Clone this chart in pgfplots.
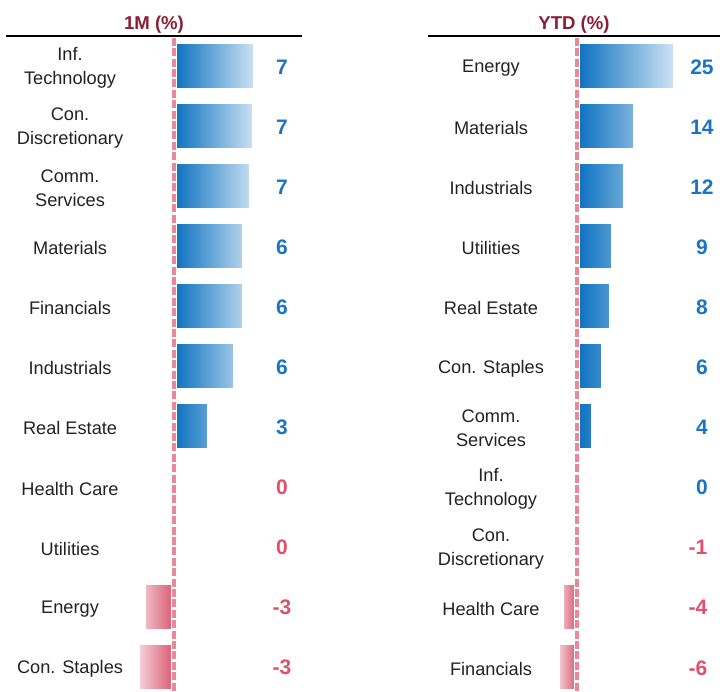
\documentclass[border=0pt]{standalone}
\usepackage{pgfplots}
\pgfplotsset{compat=1.18}
\usepackage{pgfplotstable}
\usepackage{fontspec}
\setmainfont{Liberation Sans}
\definecolor{bD}{HTML}{0A70C0}
\definecolor{bL}{HTML}{D2E5F4}
\definecolor{rD}{HTML}{DA5870}
\definecolor{rL}{HTML}{F6D8DF}
\definecolor{zl}{HTML}{E8899A}
\definecolor{ptc}{HTML}{1A74C2}
\definecolor{ntc}{HTML}{E0506A}
\definecolor{ttl}{HTML}{8C1D36}
\definecolor{lab}{HTML}{222222}
\newcommand\pv[1]{\textcolor{ptc}{#1}}
\newcommand\nv[1]{\textcolor{ntc}{#1}}

% ---- 1M panel ----
\pgfplotstableread{
idx val
0 7.45
1 7.36
2 7.09
3 6.45
4 6.45
5 5.63
6 3.27
}\leftpos
\pgfplotstableread{
idx val
9 -2.82
10 -3.36
}\leftneg
% ---- YTD panel ----
\pgfplotstableread{
idx val
0 24.75
1 14.75
2 12.25
3 9.25
4 8.75
5 6.75
6 4.25
}\rightpos
\pgfplotstableread{
idx val
9 -4.00
10 -5.00
}\rightneg

\pgfplotsset{
  panel/.style={
    scale only axis,
    y dir=reverse,
    ymin=-0.5, ymax=10.42,
    height=328pt,
    ticks=none,
    axis line style={draw=none},
    clip=false,
    every axis title shift=0pt,
    title style={font=\bfseries\fontsize{9.3}{10}\selectfont, color=ttl,
                 at={(0.5,1)}, anchor=base, yshift=3.5pt},
  },
  catlab/.style={draw=none, mark=none, nodes near coords,
    point meta=explicit symbolic,
    nodes near coords style={anchor=center, align=center, text=lab,
      yshift=-1pt, font=\fontsize{9.1}{12}\selectfont}},
  vallab/.style={draw=none, mark=none, nodes near coords,
    point meta=explicit symbolic,
    nodes near coords style={anchor=center, align=center, yshift=-0.5pt,
      font=\bfseries\fontsize{10.5}{12}\selectfont}},
  posbar/.style={xbar, bar width=25pt, draw=white, line width=3pt,
    left color=bD, right color=bL},
  negbar/.style={xbar, bar width=25pt, draw=white, line width=3pt,
    left color=rL, right color=rD},
  zeroline/.style={zl, line width=1.8pt, dash pattern=on 4pt off 1.2pt},
}

\begin{document}
\begin{tikzpicture}
\begin{axis}[panel, name=axL,
  at={(3pt,-18pt)}, anchor=north west,
  width=148pt, xmin=-15.273, xmax=11.636,
  title={1M (\%)}]
\addplot[posbar] table[x=val, y=idx] {\leftpos};
\addplot[negbar] table[x=val, y=idx] {\leftneg};
\addplot[zeroline] coordinates {(0,-0.47) (0,10.42)};
\addplot[catlab] coordinates {
(-9.45,0) [Inf.\\Technology]
(-9.45,1) [Con.\\Discretionary]
(-9.45,2) [Comm.\\Services]
(-9.45,3) [Materials]
(-9.45,4) [Financials]
(-9.45,5) [Industrials]
(-9.45,6) [Real Estate]
(-9.45,7) [Health Care]
(-9.45,8) [Utilities]
(-9.45,9) [Energy]
(-9.45,10) [Con. Staples]
};
\addplot[vallab] coordinates {
(9.82,0) [\pv{7}]
(9.82,1) [\pv{7}]
(9.82,2) [\pv{7}]
(9.82,3) [\pv{6}]
(9.82,4) [\pv{6}]
(9.82,5) [\pv{6}]
(9.82,6) [\pv{3}]
(9.82,7) [\nv{0}]
(9.82,8) [\nv{0}]
(9.82,9) [\nv{-3}]
(9.82,10) [\nv{-3}]
};
\end{axis}
\draw[black, line width=1pt] (axL.north west) -- (axL.north east);

\begin{axis}[panel, name=axR,
  at={(214pt,-18pt)}, anchor=north west,
  width=146pt, xmin=-37.25, xmax=35.75,
  title={YTD (\%)}]
\addplot[posbar] table[x=val, y=idx] {\rightpos};
\addplot[negbar] table[x=val, y=idx] {\rightneg};
\addplot[zeroline] coordinates {(0,-0.47) (0,10.42)};
\addplot[catlab] coordinates {
(-21.5,0) [Energy]
(-21.5,1) [Materials]
(-21.5,2) [Industrials]
(-21.5,3) [Utilities]
(-21.5,4) [Real Estate]
(-21.5,5) [Con. Staples]
(-21.5,6) [Comm.\\Services]
(-21.5,7) [Inf.\\Technology]
(-21.5,8) [Con.\\Discretionary]
(-21.5,9) [Health Care]
(-21.5,10) [Financials]
};
\addplot[vallab] coordinates {
(31.25,0) [\pv{25}]
(31.25,1) [\pv{14}]
(31.25,2) [\pv{12}]
(31.25,3) [\pv{9}]
(31.25,4) [\pv{8}]
(31.25,5) [\pv{6}]
(31.25,6) [\pv{4}]
(31.25,7) [\pv{0}]
(30.25,8) [\nv{-1}]
(30.25,9) [\nv{-4}]
(30.25,10) [\nv{-6}]
};
\end{axis}
\draw[black, line width=1pt] (axR.north west) -- (axR.north east);

\pgfresetboundingbox
\path[use as bounding box] (0pt,0pt) rectangle (360pt,-346pt);
\end{tikzpicture}
\end{document}
